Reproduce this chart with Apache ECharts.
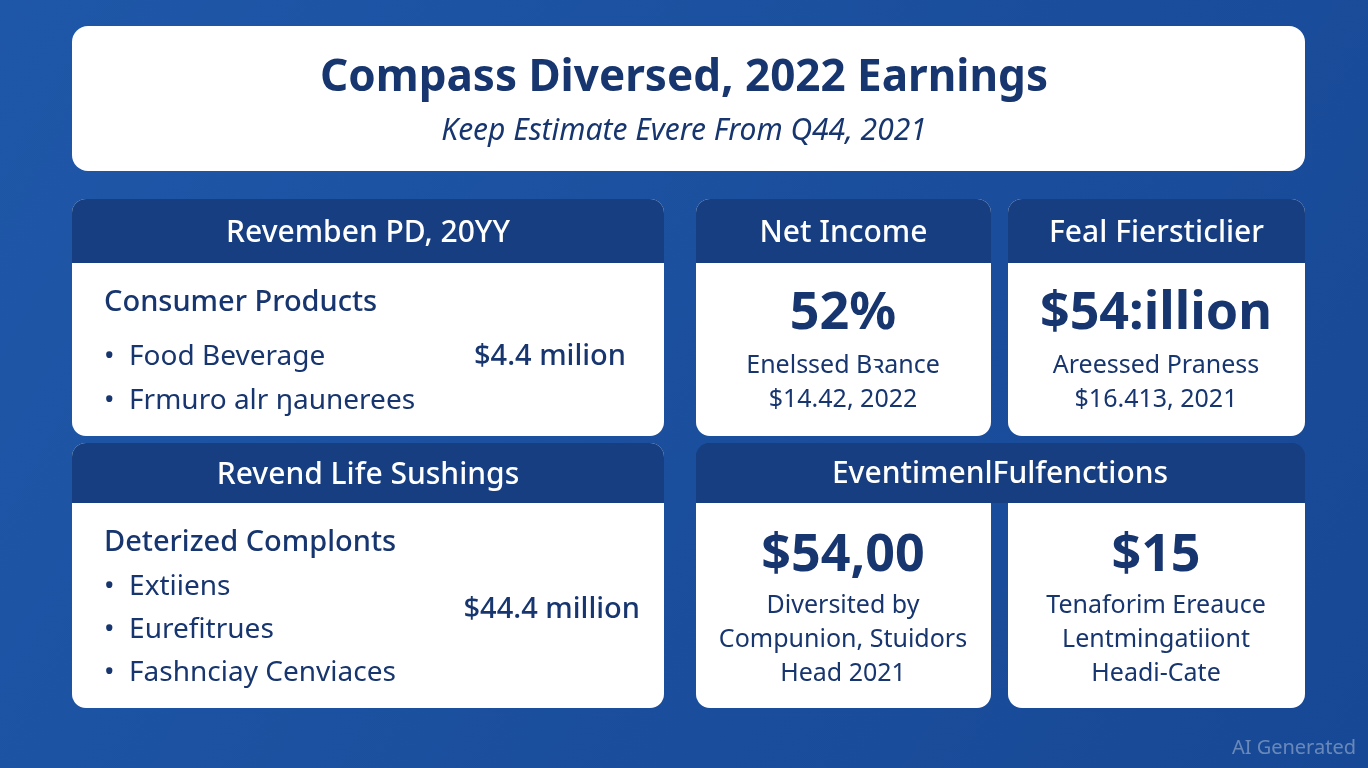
<!DOCTYPE html>
<html><head><meta charset="utf-8">
<script src="https://cdn.jsdelivr.net/npm/echarts@6/dist/echarts.min.js"></script>
<style>html,body{margin:0;padding:0}#c{width:1368px;height:768px}</style>
</head><body><div id="c"></div>
<script>
// texts of the infographic
var titleText = 'Compass Diversed, 2022 Earnings';
var subtitleText = 'Keep Estimate Evere From Q44, 2021';
var headers = ['Revemben PD, 20YY', 'Net Income', 'Feal Fiersticlier', 'Revend Life Sushings', 'EventimenlFulfenctions'];
var segment1 = ['Consumer Products', 'Food Beverage', 'Frmuro alr ŋaunerees'];
var segment1Value = '$4.4 milion';
var segment2 = ['Deterized Complonts', 'Extiiens', 'Eurefitrues', 'Fashnciay Cenviaces'];
var segment2Value = '$44.4 million';
var bigNumbers = ['52%', '$54:illion', '$54,00', '$15'];
var bigNotes = [
  'Enelssed Bꝛance\n$14.42, 2022',
  'Areessed Praness\n$16.413, 2021',
  'Diversited by\nCompunion, Stuidors\nHead 2021',
  'Tenaforim Ereauce\nLentmingatiiont\nHeadi-Cate'
];

var navy = '#173e80', ink = '#17356e', font = 'Noto Sans, sans-serif';
var g = [];
function rect(x, y, w, h, fill, r) {
  g.push({type: 'rect', shape: {x: x, y: y, width: w, height: h, r: r || 0}, style: {fill: fill}});
}
function text(x, y, s, size, color, opt) {
  opt = opt || {};
  g.push({type: 'text', x: x, y: y, style: {text: s, fontSize: size, fill: color, fontFamily: font,
    fontWeight: opt.weight || 'normal', fontStyle: opt.style || 'normal', align: opt.align || 'left',
    verticalAlign: 'middle', lineHeight: opt.lh || size * 1.2}});
}
function panel(x, y, w, h, hh, head) {
  rect(x, y, w, h, '#ffffff', 14);
  rect(x, y, w, hh, navy, [14, 14, 0, 0]);
  text(x + w / 2, y + hh / 2 + 2, head, 30, '#ffffff', {align: 'center', weight: 500});
}

// title card
rect(72, 26, 1233, 145, '#ffffff', 16);
text(684, 78, titleText, 44, ink, {align: 'center', weight: 'bold'});
text(684, 131, subtitleText, 30, ink, {align: 'center', style: 'italic'});

panel(72, 199, 592, 237, 64, headers[0]);
panel(696, 199, 295, 237, 64, headers[1]);
panel(1008, 199, 297, 237, 64, headers[2]);
panel(72, 443, 592, 265, 60, headers[3]);
// wide panel with two cards below
rect(696, 443, 609, 60, navy, [14, 14, 0, 0]);
text(1000, 474, headers[4], 30, '#ffffff', {align: 'center', weight: 500});
rect(696, 490, 295, 218, '#ffffff', 14);
rect(1008, 490, 297, 218, '#ffffff', 14);
rect(696, 443, 609, 60, navy, [14, 14, 0, 0]);
text(1000, 474, headers[4], 30, '#ffffff', {align: 'center', weight: 500});
rect(991, 490, 17, 13, navy, 0);

// segment lists
text(104, 303, segment1[0], 29, ink, {weight: 500});
segment1.slice(1).forEach(function (s, i) {
  text(104, 357 + i * 44, '•  ' + s, 28, ink);
});
text(626, 357, segment1Value, 29, ink, {align: 'right', weight: 500});
text(104, 543, segment2[0], 29, ink, {weight: 500});
segment2.slice(1).forEach(function (s, i) {
  text(104, 587 + i * 43, '•  ' + s, 28, ink);
});
text(640, 610, segment2Value, 29, ink, {align: 'right', weight: 500});

// big figures
var centers = [[843, 314, 383], [1156, 314, 383], [843, 556, 640], [1156, 556, 640]];
bigNumbers.forEach(function (s, i) {
  var c = centers[i];
  text(c[0], c[1], s, 52, ink, {align: 'center', weight: 'bold'});
  text(c[0], c[2], bigNotes[i], 25, ink, {align: 'center', lh: 34});
});
text(1356, 748, 'AI Generated', 20, 'rgba(255,255,255,0.35)', {align: 'right'});

var chart = echarts.init(document.getElementById('c'));
chart.setOption({
  backgroundColor: {type: 'linear', x: 0, y: 0, x2: 1, y2: 1,
    colorStops: [{offset: 0, color: '#1f57a8'}, {offset: 1, color: '#174895'}]},
  graphic: g
});
</script></body></html>
